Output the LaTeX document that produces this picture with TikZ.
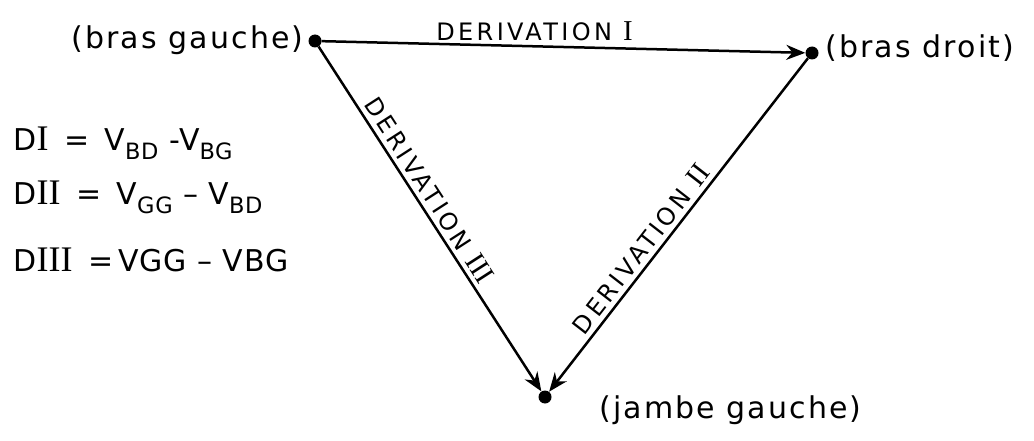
\documentclass[tikz,border=0pt]{standalone}
\usepackage{fontspec}
\setmainfont{DejaVu Sans}
\newfontfamily\romfont[Scale=1.2]{Liberation Serif}
\usetikzlibrary{arrows.meta}
\newcommand{\mysub}[1]{\raisebox{-0.3em}{\scalebox{0.75}{#1}}}
\newcommand{\rom}[1]{{\romfont #1}}
\begin{document}
\begin{tikzpicture}[x=1pt,y=1pt,
  dot/.style={circle,fill=black,inner sep=0pt,minimum size=13pt},
  arr/.style={line width=2.5pt,-{Stealth[length=19pt,width=15pt]}},
  deriv/.style={font=\fontsize{24}{28}\selectfont\addfontfeature{LetterSpace=14}},
  place/.style={font=\fontsize{30}{34}\selectfont\addfontfeature{LetterSpace=7}},
  eq/.style={font=\fontsize{30}{34}\selectfont\addfontfeature{LetterSpace=3},anchor=west}]
\useasboundingbox (0,0) rectangle (1034,440);
\fill[white] (0,0) rectangle (1034,440);
\node[dot] (bg) at (315,399) {};
\node[dot] (bd) at (812,387) {};
\node[dot] (jg) at (545,43) {};
\node[place,anchor=east] (lbg) at (307,400) {(bras gauche)};
\node[place,anchor=west] (lbd) at (822,392) {(bras droit)};
\node[place,anchor=west] (ljg) at (596,30) {(jambe gauche)};
\draw[arr] (bg) -- (bd) node[deriv,pos=0.44,above=1pt] (d1) {DERIVATION \rom{I}};
\draw[arr] (bg) -- (jg) node[deriv,pos=0.44,sloped,above=1pt] (d3) {DERIVATION \rom{III}};
\draw[arr] (bd) -- (jg) node[deriv,pos=0.6,sloped,above=1pt] (d2) {DERIVATION \rom{II}};
\node[eq] (e1) at (10,297) {D\rom{I} \,=\, V\mysub{BD} -V\mysub{BG}};
\node[eq] (e2) at (10,243) {D\rom{II} \,=\, V\mysub{GG} -- V\mysub{BD}};
\node[eq] (e3) at (10,180) {D\rom{III} \,=\,VGG -- VBG};
\end{tikzpicture}
\end{document}
